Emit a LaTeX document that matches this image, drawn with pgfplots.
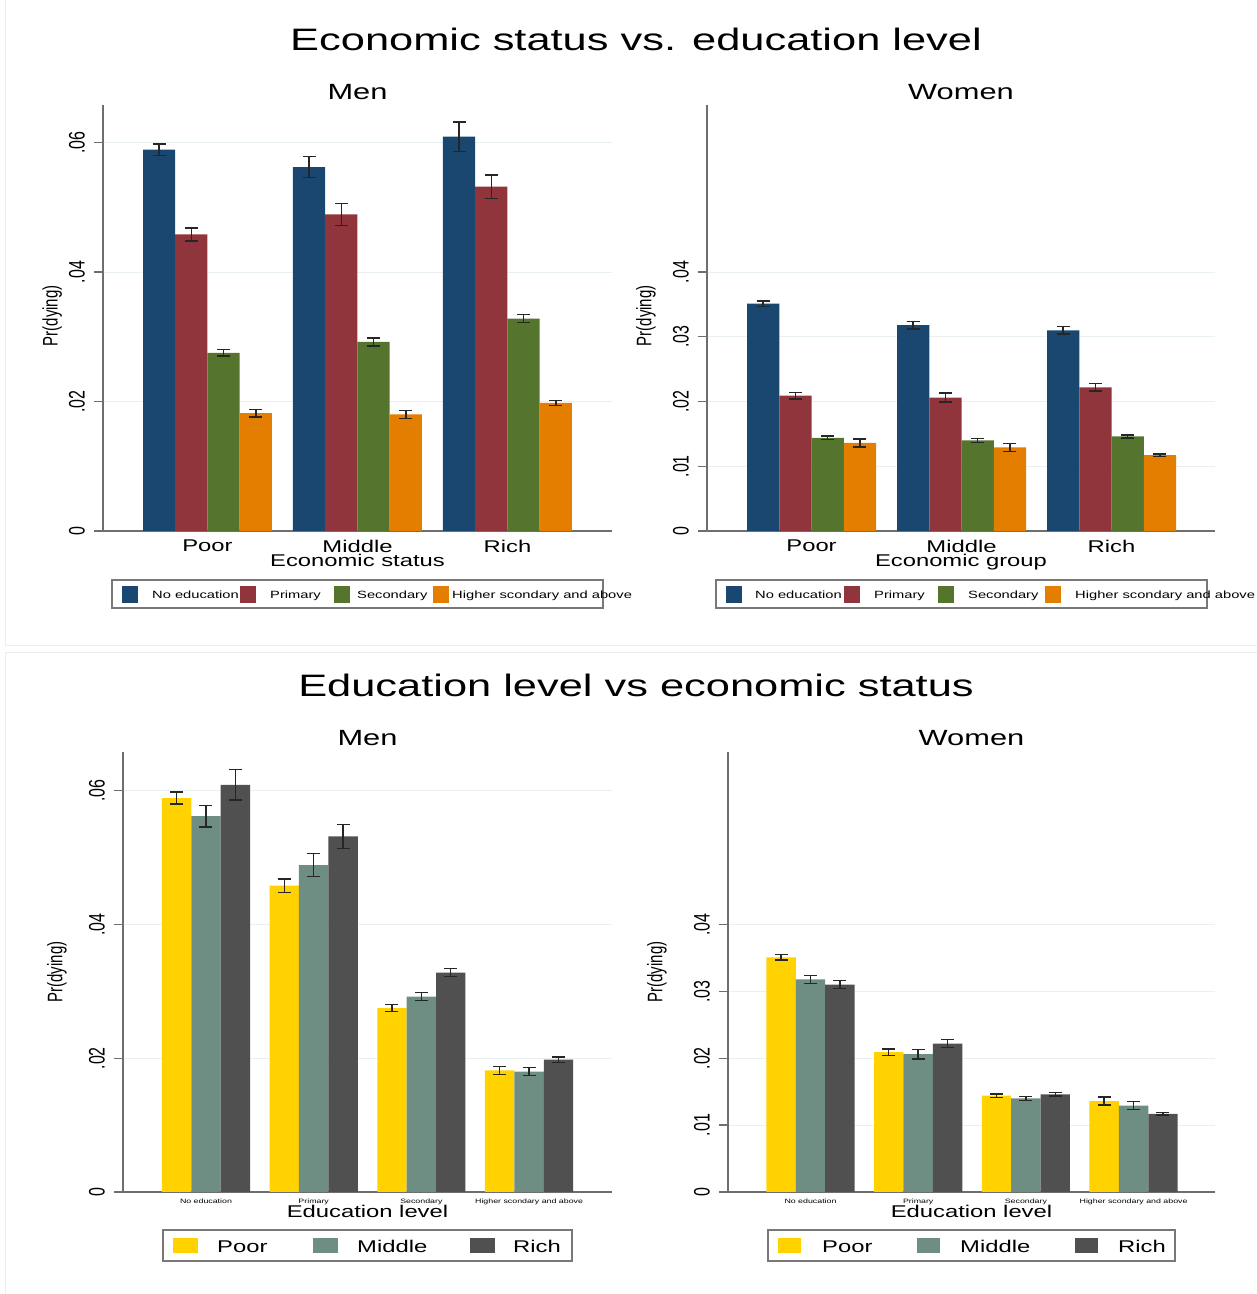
\documentclass[border=0pt]{standalone}
\usepackage{pgfplots}
\pgfplotsset{compat=1.18}
\usepackage{fontspec}
\setmainfont{Liberation Sans}
\usepackage{graphicx}

\definecolor{cNavy}{RGB}{26,71,111}
\definecolor{cMaroon}{RGB}{144,53,59}
\definecolor{cForest}{RGB}{85,117,47}
\definecolor{cOrange}{RGB}{227,126,0}
\definecolor{cPoor}{RGB}{255,210,0}
\definecolor{cMiddle}{RGB}{110,142,132}
\definecolor{cRich}{RGB}{80,80,80}
\definecolor{cGrid}{RGB}{232,240,242}
\definecolor{cAxis}{RGB}{110,110,110}
\definecolor{cFrame}{RGB}{238,238,238}
\definecolor{cBox}{RGB}{120,120,120}

% wide sans lettering: stretch horizontally (\hs) or, for rotated text, along the glyph height (\vs)
\newcommand{\hs}[1]{\scalebox{1.4}[1]{#1}}
\newcommand{\vs}[1]{\scalebox{1}[1.4]{#1}}
\newcommand{\fs}[1]{\fontsize{#1}{#1}\selectfont}

\pgfplotsset{
  panel/.style={
    scale only axis, enlargelimits=false,
    ymin=0, ymax=0.0658, scaled y ticks=false,
    axis x line*=bottom, axis y line*=left,
    axis line style={cAxis, line width=1.3pt, -},
    xtick style={draw=none},
    ytick style={cAxis, line width=1.3pt},
    tick align=outside, major tick length=9pt,
    ymajorgrids, grid style={cGrid, line width=1pt},
    yticklabel style={rotate=90, anchor=south, inner sep=0pt, font=\fs{16}},
    yticklabel shift=9pt,
    xticklabel style={anchor=north, inner sep=0pt},
    ylabel={\vs{Pr(dying)}},
    every axis y label/.style={rotate=90, anchor=center, font=\fs{15}},
    clip=false,
  },
  bars/.style n args={2}{ybar, bar width=#1, bar shift=0pt, fill=#2, draw=none,
    error bars/y dir=both, error bars/y explicit,
    error bars/error bar style={line width=1.4pt, black!85},
    error bars/error mark options={line width=1.4pt, black!85, mark size=6.5pt, rotate=90}},
}

\begin{document}
\begin{tikzpicture}[x=1pt, y=1pt]
\useasboundingbox (0pt,0pt) rectangle (1257pt,1294pt);

% page layout in pixel-like units, measured from the top edge
\begin{scope}[shift={(0pt,1294pt)}, yscale=-1]
\draw[cFrame, line width=1pt] (5,-2) rectangle (1262,645.5);
\draw[cFrame, line width=1pt] (5,652.5) rectangle (1262,1300);

\node[anchor=base, font=\fs{31}] at (636,51) {\hs{Economic status vs. education level}};
\node[anchor=base, font=\fs{31}] at (636,697) {\hs{Education level vs economic status}};
\node[anchor=base, font=\fs{22}] at (357.5,100) {\hs{Men}};
\node[anchor=base, font=\fs{22}] at (961,100) {\hs{Women}};
\node[anchor=base, font=\fs{22}] at (367.5,746) {\hs{Men}};
\node[anchor=base, font=\fs{22}] at (971.5,746) {\hs{Women}};
\end{scope}

% ---------- men, by economic status ----------
\begin{axis}[panel, at={(103pt,763pt)}, anchor=south west, width=509pt, height=426pt,
  xmin=0.3033, xmax=3.697, xtick={1,2,3},
  xticklabels={\hs{Poor},\hs{Middle},\hs{Rich}},
  xticklabel style={font=\fs{17}},
  ytick={0,0.02,0.04,0.06}, yticklabels={\vs{0},\vs{.02},\vs{.04},\vs{.06}},
  xlabel={\hs{Economic status}},
  every axis x label/.style={at={(axis description cs:0.5,0)}, anchor=base, yshift=-36pt, font=\fs{17}},
  every axis y label/.append style={at={(axis description cs:-0.1,0.505)}}]
\addplot[bars={0.215}{cNavy}] table[x=x, y=y, y error=e] {
x      y      e
0.6775 0.0589 0.0009
1.6775 0.0562 0.0016
2.6775 0.0609 0.0023
};
\addplot[bars={0.215}{cMaroon}] table[x=x, y=y, y error=e] {
x      y      e
0.8925 0.0458 0.0010
1.8925 0.0489 0.0017
2.8925 0.0532 0.0018
};
\addplot[bars={0.215}{cForest}] table[x=x, y=y, y error=e] {
x      y      e
1.1075 0.0275 0.0005
2.1075 0.0292 0.0006
3.1075 0.0328 0.0006
};
\addplot[bars={0.215}{cOrange}] table[x=x, y=y, y error=e] {
x      y      e
1.3225 0.0182 0.0006
2.3225 0.0180 0.0006
3.3225 0.0198 0.0004
};
\end{axis}

% ---------- women, by economic group ----------
\begin{axis}[panel, at={(707pt,763pt)}, anchor=south west, width=508pt, height=426pt,
  xmin=0.303, xmax=3.69, xtick={1,2,3},
  xticklabels={\hs{Poor},\hs{Middle},\hs{Rich}},
  xticklabel style={font=\fs{17}},
  ytick={0,0.01,0.02,0.03,0.04}, yticklabels={\vs{0},\vs{.01},\vs{.02},\vs{.03},\vs{.04}},
  xlabel={\hs{Economic group}},
  every axis x label/.style={at={(axis description cs:0.5,0)}, anchor=base, yshift=-36pt, font=\fs{17}},
  every axis y label/.append style={at={(axis description cs:-0.12,0.505)}}]
\addplot[bars={0.215}{cNavy}] table[x=x, y=y, y error=e] {
x      y      e
0.6775 0.0351 0.0004
1.6775 0.0318 0.0006
2.6775 0.0310 0.0006
};
\addplot[bars={0.215}{cMaroon}] table[x=x, y=y, y error=e] {
x      y      e
0.8925 0.0209 0.0005
1.8925 0.0206 0.0007
2.8925 0.0222 0.0006
};
\addplot[bars={0.215}{cForest}] table[x=x, y=y, y error=e] {
x      y      e
1.1075 0.0144 0.00025
2.1075 0.0140 0.0003
3.1075 0.0146 0.00025
};
\addplot[bars={0.215}{cOrange}] table[x=x, y=y, y error=e] {
x      y      e
1.3225 0.0136 0.0006
2.3225 0.0129 0.0006
3.3225 0.0117 0.0002
};
\end{axis}

% ---------- men, by education level ----------
\begin{axis}[panel, at={(123pt,102pt)}, anchor=south west, width=489pt, height=440pt,
  xmin=0.2294, xmax=4.770, xtick={1,2,3,4},
  xticklabels={\hs{No education},\hs{Primary},\hs{Secondary},\hs{Higher scondary and above}},
  xticklabel style={font=\fs{6.3}, yshift=2.5pt},
  ytick={0,0.02,0.04,0.06}, yticklabels={\vs{0},\vs{.02},\vs{.04},\vs{.06}},
  xlabel={\hs{Education level}},
  every axis x label/.style={at={(axis description cs:0.5,0)}, anchor=base, yshift=-26pt, font=\fs{17}},
  every axis y label/.append style={at={(axis description cs:-0.135,0.5)}}]
\addplot[bars={0.273}{cPoor}] table[x=x, y=y, y error=e] {
x     y      e
0.727 0.0589 0.0009
1.727 0.0458 0.0010
2.727 0.0275 0.0005
3.727 0.0182 0.0006
};
\addplot[bars={0.273}{cMiddle}] table[x=x, y=y, y error=e] {
x     y      e
1     0.0562 0.0016
2     0.0489 0.0017
3     0.0292 0.0006
4     0.0180 0.0006
};
\addplot[bars={0.273}{cRich}] table[x=x, y=y, y error=e] {
x     y      e
1.273 0.0609 0.0023
2.273 0.0532 0.0018
3.273 0.0328 0.0006
4.273 0.0198 0.0004
};
\end{axis}

% ---------- women, by education level ----------
\begin{axis}[panel, at={(728pt,102pt)}, anchor=south west, width=487pt, height=440pt,
  xmin=0.234, xmax=4.756, xtick={1,2,3,4},
  xticklabels={\hs{No education},\hs{Primary},\hs{Secondary},\hs{Higher scondary and above}},
  xticklabel style={font=\fs{6.3}, yshift=2.5pt},
  ytick={0,0.01,0.02,0.03,0.04}, yticklabels={\vs{0},\vs{.01},\vs{.02},\vs{.03},\vs{.04}},
  xlabel={\hs{Education level}},
  every axis x label/.style={at={(axis description cs:0.5,0)}, anchor=base, yshift=-26pt, font=\fs{17}},
  every axis y label/.append style={at={(axis description cs:-0.146,0.5)}}]
\addplot[bars={0.273}{cPoor}] table[x=x, y=y, y error=e] {
x     y      e
0.727 0.0351 0.0004
1.727 0.0209 0.0005
2.727 0.0144 0.00025
3.727 0.0136 0.0006
};
\addplot[bars={0.273}{cMiddle}] table[x=x, y=y, y error=e] {
x     y      e
1     0.0318 0.0006
2     0.0206 0.0007
3     0.0140 0.0003
4     0.0129 0.0006
};
\addplot[bars={0.273}{cRich}] table[x=x, y=y, y error=e] {
x     y      e
1.273 0.0310 0.0006
2.273 0.0222 0.0006
3.273 0.0146 0.00025
4.273 0.0117 0.0002
};
\end{axis}

% ---------- legends ----------
\begin{scope}[shift={(0pt,1294pt)}, yscale=-1]
\begin{scope}[every node/.style={anchor=base west, inner sep=0pt, font=\fs{10.5}}]
\draw[cBox, line width=1.2pt] (112,580) rectangle (603,608);
\fill[cNavy]   (121.5,586) rectangle (137.5,603);
\fill[cMaroon] (240,586) rectangle (256,603);
\fill[cForest] (334,586) rectangle (350,603);
\fill[cOrange] (433,586) rectangle (449,603);
\node at (152,599) {\hs{No education}};
\node at (270,599) {\hs{Primary}};
\node at (357,599) {\hs{Secondary}};
\node at (452,599) {\hs{Higher scondary and above}};

\draw[cBox, line width=1.2pt] (716,580) rectangle (1207,608);
\fill[cNavy]   (725.5,586) rectangle (741.5,603);
\fill[cMaroon] (844,586) rectangle (860,603);
\fill[cForest] (938,586) rectangle (954,603);
\fill[cOrange] (1045,586) rectangle (1061,603);
\node at (755,599) {\hs{No education}};
\node at (874,599) {\hs{Primary}};
\node at (968,599) {\hs{Secondary}};
\node at (1075,599) {\hs{Higher scondary and above}};
\end{scope}

\begin{scope}[every node/.style={anchor=base west, inner sep=0pt, font=\fs{17}}]
\draw[cBox, line width=1.2pt] (163,1230) rectangle (572,1261);
\fill[cPoor]   (173,1238) rectangle (198,1253);
\fill[cMiddle] (313,1238) rectangle (338,1253);
\fill[cRich]   (470,1238) rectangle (495,1253);
\node at (217,1253) {\hs{Poor}};
\node at (357,1253) {\hs{Middle}};
\node at (513,1253) {\hs{Rich}};

\draw[cBox, line width=1.2pt] (768,1230) rectangle (1175,1261);
\fill[cPoor]   (778,1238) rectangle (801,1253);
\fill[cMiddle] (917,1238) rectangle (940,1253);
\fill[cRich]   (1075,1238) rectangle (1098,1253);
\node at (822,1253) {\hs{Poor}};
\node at (960,1253) {\hs{Middle}};
\node at (1118,1253) {\hs{Rich}};
\end{scope}
\end{scope}
\end{tikzpicture}
\end{document}
